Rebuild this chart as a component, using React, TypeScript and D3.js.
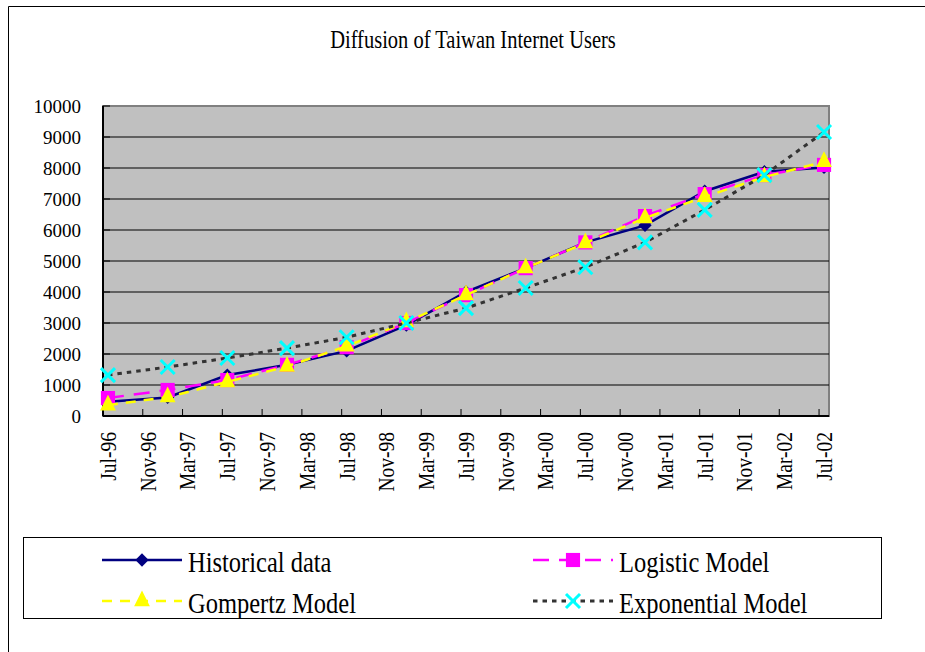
import React from "react";
import * as d3 from "d3";

// chart values (users, thousands)
const title = "Diffusion of Taiwan Internet Users";
const pointMonths = ["Jul-96", "Jan-97", "Jul-97", "Jan-98", "Jul-98", "Jan-99", "Jul-99", "Jan-00", "Jul-00", "Jan-01", "Jul-01", "Jan-02", "Jul-02"];
const historical = [460, 600, 1320, 1650, 2100, 2930, 4000, 4770, 5600, 6150, 7250, 7880, 8020];
const logistic = [580, 840, 1160, 1650, 2220, 3000, 3900, 4770, 5600, 6450, 7160, 7770, 8100];
const gompertz = [350, 610, 1100, 1600, 2250, 3030, 3900, 4770, 5580, 6390, 7070, 7710, 8200];
const exponential = [1320, 1580, 1870, 2190, 2540, 3000, 3480, 4130, 4800, 5600, 6650, 7770, 9160];
const tickLabels = ["Jul-96", "Nov-96", "Mar-97", "Jul-97", "Nov-97", "Mar-98", "Jul-98", "Nov-98", "Mar-99", "Jul-99", "Nov-99", "Mar-00", "Jul-00", "Nov-00", "Mar-01", "Jul-01", "Nov-01", "Mar-02", "Jul-02"];
const yTicks = [0, 1000, 2000, 3000, 4000, 5000, 6000, 7000, 8000, 9000, 10000];
const seriesNames = ["Historical data", "Logistic Model", "Gompertz Model", "Exponential Model"];

const W = 925, H = 652;
const plot = { left: 103, right: 829, top: 106, bottom: 416 };
const FONT = "'Liberation Serif', 'Times New Roman', serif";

const fmt = d3.timeFormat("%b-%y");
const months = d3.timeMonth.range(new Date(1996, 6, 1), new Date(2002, 7, 1)).map(fmt);

const x = d3.scaleBand<string>().domain(months).range([plot.left, plot.right]).padding(0);
const cx = (m: string) => (x(m) as number) + x.bandwidth() / 2;
const y = d3.scaleLinear().domain([0, 10000]).range([plot.bottom, plot.top]);

const series = [
  { name: seriesNames[0], values: historical, color: "#000080", dash: "", width: 2.5, marker: "diamond" },
  { name: seriesNames[1], values: logistic, color: "#FF00FF", dash: "16,10", width: 2.5, marker: "square" },
  { name: seriesNames[2], values: gompertz, color: "#FFFF00", dash: "10,8", width: 2.5, marker: "triangle" },
  { name: seriesNames[3], values: exponential, color: "#333333", dash: "4.5,5", width: 3, marker: "x" },
];

const symDiamond = d3.symbol(d3.symbolSquare, 88)()!;
const symSquare = d3.symbol(d3.symbolSquare, 200)()!;
const symTriangle = d3.symbol(d3.symbolTriangle, 108)()!;
const symX = d3.symbol(d3.symbolTimes, 130)()!;

function Marker({ kind, px, py, color }: { kind: string; px: number; py: number; color: string }) {
  if (kind === "diamond")
    return <path d={symDiamond} transform={`translate(${px},${py}) rotate(45)`} fill={color} />;
  if (kind === "square") return <path d={symSquare} transform={`translate(${px},${py})`} fill={color} />;
  if (kind === "triangle")
    return <path d={symTriangle} transform={`translate(${px},${py}) scale(1,1.15)`} fill={color} />;
  return <path d={symX} transform={`translate(${px},${py})`} fill="none" stroke="#00FFFF" strokeWidth={3} />;
}

const markerColor = (s: any) => (s.marker === "x" ? "#00FFFF" : s.color);

export default function App() {
  const line = d3
    .line<number>()
    .x((_, i) => cx(pointMonths[i]))
    .y((v) => y(v));

  const xTicks = d3.range(0, months.length, 4).map((i) => months[i]);
  const legendPos = [
    { x0: 102, ly: 560 },
    { x0: 533, ly: 560 },
    { x0: 102, ly: 601 },
    { x0: 533, ly: 601 },
  ];

  return (
    <svg width={W} height={H} style={{ position: "absolute", left: 0, top: 0 }} fontFamily={FONT}>
      <rect x={0} y={0} width={W} height={H} fill="#fff" />
      {/* outer chart border */}
      <path d={`M8.5,${H}V6.5H${W}`} fill="none" stroke="#000" strokeWidth={1} />

      <text transform={`translate(473,48) scale(1,1.2)`} textAnchor="middle" fontSize={20.5} fill="#000">
        {title}
      </text>

      {/* plot area */}
      <rect
        x={plot.left}
        y={plot.top}
        width={plot.right - plot.left}
        height={plot.bottom - plot.top}
        fill="#C0C0C0"
        stroke="#808080"
        strokeWidth={2}
      />
      {yTicks.slice(1, -1).map((t) => (
        <line key={t} x1={plot.left} x2={plot.right} y1={y(t)} y2={y(t)} stroke="#000" strokeWidth={1} />
      ))}
      {yTicks.map((t) => (
        <g key={"yt" + t}>
          <line x1={plot.left} x2={plot.left + 7} y1={y(t)} y2={y(t)} stroke="#000" strokeWidth={1} />
          <text x={81} y={y(t)} dy="0.35em" textAnchor="end" fontSize={19} fill="#000">
            {t}
          </text>
        </g>
      ))}
      <line x1={plot.left} x2={plot.left} y1={plot.top} y2={plot.bottom} stroke="#000" strokeWidth={2} />
      <line x1={plot.left} x2={plot.right} y1={plot.bottom} y2={plot.bottom} stroke="#000" strokeWidth={2} />
      {xTicks.map((m) => (
        <line key={"xt" + m} x1={x(m)} x2={x(m)} y1={plot.bottom} y2={plot.bottom - 7} stroke="#000" strokeWidth={1} />
      ))}
      {tickLabels.map((lab) => (
        <text
          key={"xl" + lab}
          transform={`translate(${cx(lab)},432) rotate(-90) scale(1,1.15)`}
          dy="0.35em"
          textAnchor="end"
          fontSize={19.5}
          fill="#000"
        >
          {lab}
        </text>
      ))}

      {/* series */}
      {series.map((s) => (
        <g key={s.name}>
          <path
            d={line(s.values)!}
            fill="none"
            stroke={s.color}
            strokeWidth={s.width}
            strokeDasharray={s.dash || undefined}
          />
          {s.values.map((v, i) => (
            <Marker key={i} kind={s.marker} px={cx(pointMonths[i])} py={y(v)} color={markerColor(s)} />
          ))}
        </g>
      ))}

      {/* legend */}
      <rect x={23.5} y={537.5} width={858} height={81} fill="#fff" stroke="#000" strokeWidth={1} />
      {series.map((s, i) => {
        const p = legendPos[i];
        return (
          <g key={"lg" + s.name}>
            <line
              x1={p.x0}
              x2={p.x0 + 80}
              y1={p.ly}
              y2={p.ly}
              stroke={s.color}
              strokeWidth={s.width}
              strokeDasharray={s.dash || undefined}
            />
            <Marker kind={s.marker} px={p.x0 + 40} py={p.ly} color={markerColor(s)} />
            <text transform={`translate(${p.x0 + 86},${p.ly + 12}) scale(1,1.2)`} fontSize={24.5} fill="#000">
              {s.name}
            </text>
          </g>
        );
      })}
    </svg>
  );
}
